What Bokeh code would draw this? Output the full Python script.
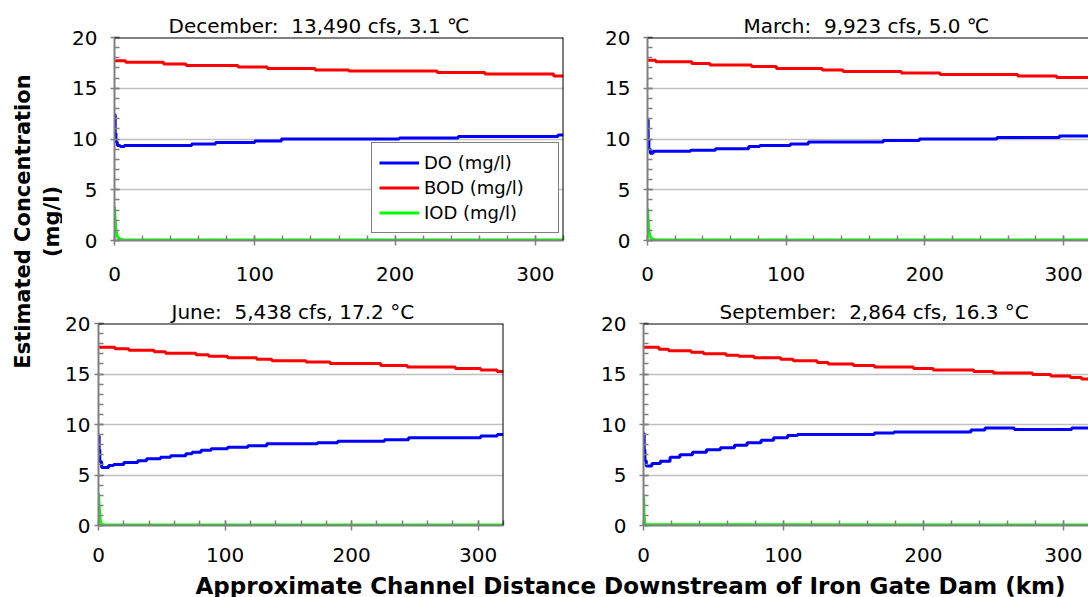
import math

from bokeh.core.properties import value
from bokeh.embed import file_html
from bokeh.layouts import column, row
from bokeh.models import Legend, LegendItem, Range1d, SingleIntervalTicker, Span
from bokeh.plotting import figure
from bokeh.resources import INLINE

# ---------------------------------------------------------------- data
# Distance downstream (km) where each modelled value begins, and the value (mg/l)

DEC_DO_KM = [0, 0.5, 1, 2, 4, 7, 55, 72, 100, 119, 203, 245, 316, 320]
DEC_DO = [12.4, 10.6, 9.7, 9.35, 9.25, 9.35, 9.5, 9.65, 9.8, 10.0, 10.1, 10.25, 10.4, 10.4]
DEC_BOD_KM = [0, 8, 35, 51, 88, 109, 143, 167, 230, 264, 313, 320]
DEC_BOD = [17.7, 17.55, 17.4, 17.25, 17.1, 16.95, 16.8, 16.7, 16.55, 16.4, 16.2, 16.2]
DEC_IOD_KM = [0, 0.5, 1, 2, 3.5, 6, 320]
DEC_IOD = [3.3, 2.0, 1.0, 0.4, 0.15, 0.05, 0.05]

MAR_DO_KM = [0, 0.5, 1, 2, 4, 31, 49, 73, 81, 103, 116, 170, 196, 252, 297, 320]
MAR_DO = [11.9, 10.0, 9.0, 8.6, 8.8, 8.9, 9.05, 9.25, 9.35, 9.5, 9.7, 9.85, 10.0, 10.15, 10.3, 10.3]
MAR_BOD_KM = [0, 6, 32, 45, 75, 93, 126, 141, 183, 211, 267, 295, 320]
MAR_BOD = [17.75, 17.6, 17.45, 17.3, 17.15, 16.95, 16.8, 16.65, 16.5, 16.35, 16.2, 16.05, 16.05]
MAR_IOD_KM = [0, 0.5, 1, 2, 3.5, 6, 320]
MAR_IOD = [3.2, 1.9, 0.9, 0.35, 0.12, 0.05, 0.05]

JUN_DO_KM = [0, 0.5, 1, 2.5, 8, 12, 20, 31, 38, 49, 57, 69, 74, 81, 89, 102, 118, 133,
             173, 189, 226, 245, 302, 315, 320]
JUN_DO = [8.85, 7.5, 6.3, 5.75, 5.95, 6.05, 6.25, 6.4, 6.6, 6.75, 6.9, 7.1, 7.25, 7.45,
          7.6, 7.75, 7.9, 8.1, 8.2, 8.35, 8.5, 8.7, 8.85, 9.0, 9.0]
JUN_BOD_KM = [0, 13, 24, 44, 53, 77, 87, 102, 125, 137, 164, 183, 223, 244, 282, 302, 315, 320]
JUN_BOD = [17.65, 17.5, 17.35, 17.2, 17.05, 16.9, 16.75, 16.6, 16.45, 16.3, 16.2, 16.05,
           15.85, 15.7, 15.55, 15.4, 15.25, 15.25]
JUN_IOD_KM = [0, 0.5, 1, 1.5, 2.5, 4, 320]
JUN_IOD = [3.2, 2.0, 1.0, 0.4, 0.12, 0.05, 0.05]

SEP_DO_KM = [0, 0.5, 1, 2, 6, 12, 19, 26, 35, 45, 55, 65, 74, 84, 93, 103, 110, 165, 179,
             234, 244, 265, 306, 320]
SEP_DO = [9.1, 7.5, 6.4, 5.9, 6.15, 6.35, 6.75, 7.0, 7.25, 7.5, 7.7, 7.95, 8.2, 8.45, 8.7,
          8.9, 9.0, 9.15, 9.25, 9.45, 9.65, 9.5, 9.65, 9.65]
SEP_BOD_KM = [0, 11, 18, 34, 43, 59, 68, 79, 98, 107, 124, 132, 150, 165, 193, 207, 236,
              250, 278, 291, 305, 313, 320]
SEP_BOD = [17.65, 17.45, 17.3, 17.15, 17.0, 16.85, 16.75, 16.6, 16.45, 16.3, 16.15, 16.0,
           15.85, 15.7, 15.55, 15.4, 15.25, 15.1, 14.95, 14.8, 14.65, 14.5, 14.5]
SEP_IOD_KM = [0, 0.4, 0.8, 1.5, 320]
SEP_IOD = [3.1, 1.2, 0.3, 0.08, 0.05]

NB = "\u00a0"
TITLES = ["December:" + NB + NB + "13,490 cfs, 3.1 \u2103",
          "March:" + NB + NB + "9,923 cfs, 5.0 \u2103",
          "June:" + NB + NB + "5,438 cfs, 17.2 \u00b0C",
          "September:" + NB + NB + "2,864 cfs, 16.3 \u00b0C"]
SERIES_NAMES = ["DO (mg/l)", "BOD (mg/l)", "IOD (mg/l)"]
SERIES_COLORS = ["#0000ff", "#ff0000", "#00ff00"]
Y_TITLE = ["Estimated Concentration", "(mg/l)"]
X_TITLE = "Approximate Channel Distance Downstream of Iron Gate Dam (km)"

KM_END = 320      # model reach length
FONT = "DejaVu Sans"
PAGE_W, PAGE_H = 1088, 597
YLAB_W = 62       # strip holding the shared y title
XLAB_H = 26       # strip holding the shared x title


def panel(title, title_offset, frame_w, frame_h, x_end, borders, x_standoff, y_standoff, series):
    left, right, top, bottom = borders
    p = figure(frame_width=frame_w, frame_height=frame_h,
               x_range=Range1d(0, x_end), y_range=Range1d(0, 20),
               min_border_left=left, min_border_right=right,
               min_border_top=top, min_border_bottom=bottom,
               output_backend="svg", toolbar_location=None,
               background_fill_color="white", border_fill_color="white",
               outline_line_color=None)
    p.title.text = title
    p.title.align = "left"
    p.title.offset = title_offset
    p.title.standoff = 0
    p.title.text_font = FONT
    p.title.text_font_size = "20px"
    p.title.text_font_style = "normal"
    p.title.text_color = "black"

    p.xaxis.ticker = SingleIntervalTicker(interval=100, num_minor_ticks=5)
    p.yaxis.ticker = SingleIntervalTicker(interval=5, num_minor_ticks=5)
    p.ygrid.ticker = SingleIntervalTicker(interval=5)
    p.xgrid.visible = False
    p.ygrid.grid_line_color = "#c0c0c0"
    p.ygrid.grid_line_width = 1.5

    for ax in (p.xaxis, p.yaxis):
        ax.axis_line_color = "#808080"
        ax.axis_line_width = 2
        ax.major_tick_line_color = "#808080"
        ax.minor_tick_line_color = "#808080"
        ax.major_tick_line_width = 1.5
        ax.minor_tick_line_width = 1.5
        ax.major_tick_in = 5
        ax.minor_tick_in = 5
        ax.minor_tick_out = 0
        ax.major_label_text_font = FONT
        ax.major_label_text_font_size = "20px"
        ax.major_label_text_color = "black"
    p.xaxis.major_tick_out = 5
    p.xaxis.major_label_standoff = x_standoff
    p.yaxis.major_tick_out = 4
    p.yaxis.major_label_standoff = y_standoff

    renderers = []
    (do_km, do_v), (bod_km, bod_v), (iod_km, iod_v) = series
    renderers.append(p.step(do_km, do_v, mode="after", line_color=SERIES_COLORS[0], line_width=3))
    renderers.append(p.step(bod_km, bod_v, mode="after", line_color=SERIES_COLORS[1], line_width=3))
    renderers.append(p.line(iod_km, iod_v, line_color=SERIES_COLORS[2], line_width=3))

    # plot-area frame: black along the top (and right when the panel is not cut off)
    p.add_layout(Span(location=20, dimension="width", line_color="black", line_width=2))
    if x_end >= KM_END:
        p.add_layout(Span(location=KM_END, dimension="height", line_color="black", line_width=2))
    return p, renderers


tl, tl_r = panel(TITLES[0], 54, 449, 203, KM_END, (52, 20, 37, 50), 21, 13,
                 [(DEC_DO_KM, DEC_DO), (DEC_BOD_KM, DEC_BOD), (DEC_IOD_KM, DEC_IOD)])
tr, _ = panel(TITLES[1], 96, 441, 203, 318, (64, 0, 37, 50), 21, 13,
              [(MAR_DO_KM, MAR_DO), (MAR_BOD_KM, MAR_BOD), (MAR_IOD_KM, MAR_IOD)])
bl, _ = panel(TITLES[2], 73, 405, 202, KM_END, (36, 60, 33, 46), 17, 4,
              [(JUN_DO_KM, JUN_DO), (JUN_BOD_KM, JUN_BOD), (JUN_IOD_KM, JUN_IOD)])
br, _ = panel(TITLES[3], 76, 445, 202, 318, (80, 0, 33, 46), 17, 13,
              [(SEP_DO_KM, SEP_DO), (SEP_BOD_KM, SEP_BOD), (SEP_IOD_KM, SEP_IOD)])

legend = Legend(items=[LegendItem(label=n, renderers=[r]) for n, r in zip(SERIES_NAMES, tl_r)],
                location=(257, 7), margin=0, padding=7, spacing=0,
                glyph_width=40, glyph_height=25, label_height=25, label_width=127,
                label_standoff=5, label_text_font=FONT, label_text_font_size="18px",
                label_text_color="black", border_line_color="black", border_line_width=1,
                background_fill_color="white", background_fill_alpha=1)
tl.add_layout(legend)


def text_strip(width, height):
    p = figure(width=width, height=height, x_range=Range1d(0, width), y_range=Range1d(0, height),
               min_border=0, output_backend="svg", toolbar_location=None,
               x_axis_type=None, y_axis_type=None, outline_line_color=None,
               background_fill_color="white", border_fill_color="white")
    p.xgrid.visible = False
    p.ygrid.visible = False
    return p


# shared y title, two lines, reading upward
ylab = text_strip(YLAB_W, PAGE_H)
ylab.text(x=[22, 51], y=[PAGE_H - 221, PAGE_H - 221], text=Y_TITLE, angle=math.pi / 2,
          text_align="center", text_baseline="middle", text_font=value(FONT),
          text_font_size="21px", text_font_style="bold", text_color="black")

# shared x title
xlab = text_strip(PAGE_W - YLAB_W, XLAB_H)
xlab.text(x=[630 - YLAB_W], y=[XLAB_H / 2 - 1], text=[X_TITLE], text_align="center",
          text_baseline="middle", text_font=value(FONT), text_font_size="23px",
          text_font_style="bold", text_color="black")

layout = row(ylab, column(row(tl, tr), row(bl, br), xlab))

with open("out.html", "w") as f:
    f.write(file_html(layout, INLINE))
